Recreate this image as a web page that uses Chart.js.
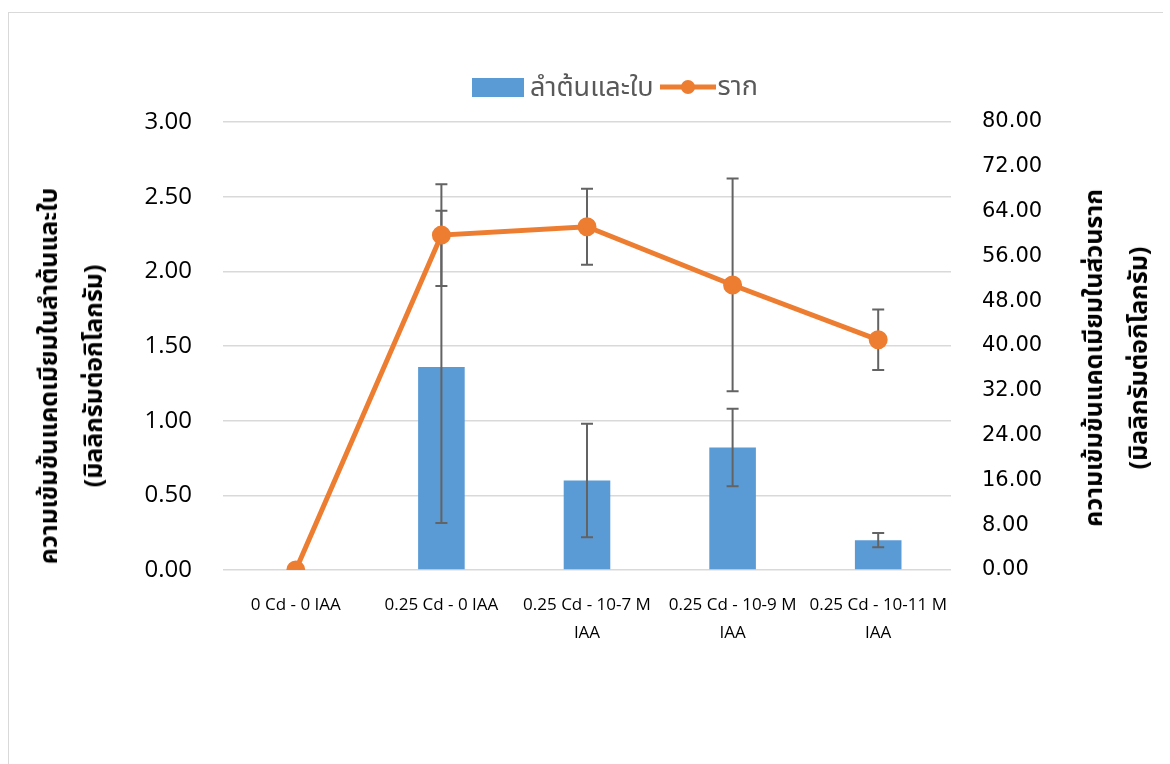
<!DOCTYPE html>
<html>
<head>
<meta charset="utf-8">
<script src="https://cdn.jsdelivr.net/npm/chart.js@4"></script>
<style>
  body { margin: 0; background: #fff; }
  .wrap { position: relative; width: 1170px; height: 764px; overflow: hidden; }
  .frame { position: absolute; left: 8px; top: 12px; width: 1154px; height: 800px;
           border-top: 1px solid #d9d9d9; border-left: 1px solid #d9d9d9; }
  canvas { position: absolute; left: 0; top: 0; }
  .legend { position: absolute; left: 30px; top: 66px; width: 1170px; text-align: center;
            font-family: "Noto Sans Thai", "Noto Sans", "DejaVu Sans", sans-serif; font-size: 27px; color: #595959; }
  .legend span.item { display: inline-flex; align-items: center; margin: 0 3px; }
  .legend .sw { display: inline-block; margin-right: 6px; }
  .ytitle { position: absolute; font-family: "Noto Sans Thai", "Noto Sans", "DejaVu Sans", sans-serif;
            font-weight: bold; font-size: 25px; color: #000; white-space: nowrap; text-align: center;
            line-height: 45px; transform: translate(-50%, -50%) rotate(-90deg); }
</style>
</head>
<body>
<div class="wrap">
  <div class="frame"></div>
  <canvas id="chart" width="1170" height="764"></canvas>
  <div class="legend" id="legend"></div>
  <div class="ytitle" id="titleL" style="left:72px; top:376px;"></div>
  <div class="ytitle" id="titleR" style="left:1117px; top:358px;"></div>
</div>
<script>
const categories = [
  ["0 Cd - 0 IAA"],
  ["0.25 Cd - 0 IAA"],
  ["0.25 Cd - 10-7 M", "IAA"],
  ["0.25 Cd - 10-9 M", "IAA"],
  ["0.25 Cd - 10-11 M", "IAA"]
];
const shootLabel = "ลำต้นและใบ";
const rootLabel = "ราก";
const shootValues = [0, 1.36, 0.60, 0.82, 0.20];
const shootErrors = [0, 1.045, 0.38, 0.26, 0.047];
const rootValues = [0, 59.8, 61.3, 50.9, 41.1];
const rootErrors = [0, 9.1, 6.8, 19.0, 5.4];
const leftTitle = ["ความเข้มข้นแคดเมียมในลำต้นและใบ", "(มิลลิกรัมต่อกิโลกรัม)"];
const rightTitle = ["ความเข้มข้นแคดเมียมในส่วนราก", "(มิลลิกรัมต่อกิโลกรัม)"];

const blue = '#5b9bd5';
const orange = '#ed7d31';

document.getElementById('titleL').innerHTML = leftTitle.join('<br>');
document.getElementById('titleR').innerHTML = rightTitle.join('<br>');

// error bars drawn through the chart scales
function drawErrors(chart, dsIndex, errors, axisId) {
  const meta = chart.getDatasetMeta(dsIndex);
  const scale = chart.scales[axisId];
  const values = chart.data.datasets[dsIndex].data;
  const ctx = chart.ctx;
  ctx.save();
  ctx.strokeStyle = '#636363';
  ctx.lineWidth = 2;
  meta.data.forEach(function (el, i) {
    if (!errors[i]) return;
    const x = el.x;
    const yTop = scale.getPixelForValue(values[i] + errors[i]);
    const yBot = scale.getPixelForValue(values[i] - errors[i]);
    ctx.beginPath();
    ctx.moveTo(x, yTop); ctx.lineTo(x, yBot);
    ctx.moveTo(x - 6, yTop); ctx.lineTo(x + 6, yTop);
    ctx.moveTo(x - 6, yBot); ctx.lineTo(x + 6, yBot);
    ctx.stroke();
  });
  ctx.restore();
}

const errorBars = {
  id: 'errorBars',
  afterDatasetDraw(chart, args) {
    if (args.index === 0) drawErrors(chart, 0, shootErrors, 'yL');
  },
  beforeDatasetDraw(chart, args) {
    if (args.index === 1) drawErrors(chart, 1, rootErrors, 'yR');
  }
};

const ctx = document.getElementById('chart').getContext('2d');
const chart = new Chart(ctx, {
  type: 'bar',
  data: {
    labels: categories,
    datasets: [{
      label: shootLabel,
      data: shootValues,
      backgroundColor: blue,
      yAxisID: 'yL',
      barPercentage: 0.32,
      categoryPercentage: 1,
      order: 2
    }, {
      type: 'line',
      label: rootLabel,
      data: rootValues,
      borderColor: orange,
      backgroundColor: orange,
      borderWidth: 5,
      pointRadius: 7,
      pointBackgroundColor: orange,
      pointBorderColor: orange,
      yAxisID: 'yR',
      order: 1
    }]
  },
  options: {
    responsive: false,
    animation: false,
    layout: { padding: { left: 123, right: 119, top: 122, bottom: 114 } },
    plugins: {
      legend: { display: false },
      tooltip: { enabled: false }
    },
    scales: {
      x: {
        grid: { display: false },
        border: { display: false },
        ticks: {
          color: '#000',
          font: { family: 'Open Sans', size: 17, lineHeight: 1.65 },
          maxRotation: 0,
          autoSkip: false,
          padding: 13
        },
        afterFit(scale) { scale.height = 80; }
      },
      yL: {
        position: 'left',
        min: 0, max: 3,
        grid: { color: '#d9d9d9', lineWidth: 1.5, drawTicks: false },
        border: { display: false },
        ticks: {
          stepSize: 0.5,
          color: '#000',
          font: { family: 'Open Sans', size: 24 },
          padding: 31,
          callback: function (v) { return v.toFixed(2); }
        },
        afterFit(scale) { scale.width = 100; }
      },
      yR: {
        position: 'right',
        min: 0, max: 80,
        grid: { display: false, drawTicks: false },
        border: { display: false },
        ticks: {
          stepSize: 8,
          color: '#000',
          font: { family: 'DejaVu Sans', size: 21 },
          padding: 31,
          callback: function (v) { return v.toFixed(2); }
        },
        afterFit(scale) { scale.width = 100; }
      }
    }
  },
  plugins: [errorBars]
});

// legend built from the datasets
const legend = document.getElementById('legend');
chart.data.datasets.forEach(function (ds) {
  const item = document.createElement('span');
  item.className = 'item';
  const sw = document.createElement('canvas');
  sw.className = 'sw';
  if (ds.type === 'line') {
    sw.width = 56; sw.height = 20;
    const c = sw.getContext('2d');
    c.strokeStyle = ds.borderColor; c.lineWidth = 5;
    c.beginPath(); c.moveTo(0, 10); c.lineTo(56, 10); c.stroke();
    c.fillStyle = ds.borderColor;
    c.beginPath(); c.arc(28, 10, 7, 0, Math.PI * 2); c.fill();
    sw.style.marginRight = '2px';
  } else {
    sw.width = 52; sw.height = 19;
    const c = sw.getContext('2d');
    c.fillStyle = ds.backgroundColor; c.fillRect(0, 0, 52, 19);
  }
  sw.style.position = 'static';
  item.appendChild(sw);
  item.appendChild(document.createTextNode(ds.label));
  legend.appendChild(item);
});
</script>
</body>
</html>
